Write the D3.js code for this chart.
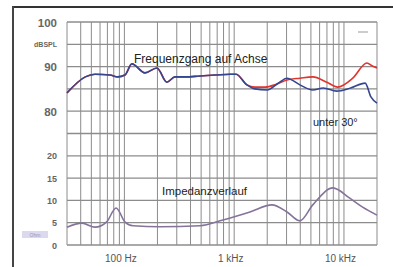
<!DOCTYPE html>
<html>
<head>
<meta charset="utf-8">
<script src="https://cdn.jsdelivr.net/npm/d3@7"></script>
<style>
body { margin:0; background:#fff; }
svg { display:block; font-family: "Liberation Sans", Arial, sans-serif; }
</style>
</head>
<body>
<div class="chart"></div>
<script>
// Frequenzgang (dB) and Impedanz (Ohm)
var freqAxis = [30, 44, 54, 74, 87, 101, 117, 154, 198, 244, 289, 356, 488, 668, 917, 1040, 1306];
var splAxis  = [84.1, 87.7, 88.3, 88.1, 87.7, 88.1, 90.6, 88.6, 89.7, 86.5, 87.7, 87.7, 87.9, 88.1, 88.3, 88.3, 85.9];

var freqOn = [1544, 1915, 2400, 3030, 3966, 5203, 6975, 8780, 12031, 16163, 18334, 20000];
var splOn  = [85.4, 85.4, 86.0, 87.0, 87.4, 87.7, 86.5, 85.4, 87.4, 90.8, 90.1, 89.7];

var freq30 = [1544, 2000, 2500, 3030, 3966, 5203, 6485, 8575, 11500, 15600, 17600, 20000];
var spl30  = [85.0, 84.75, 86.2, 87.4, 85.9, 84.75, 85.2, 84.5, 85.2, 86.3, 83.2, 81.8];

var freqImp = [30, 41, 54, 69, 84, 101, 120, 211, 488, 790, 1393, 2208, 3030, 3966, 5203, 7923, 11300, 14800, 20000];
var ohmImp  = [4.0, 4.9, 4.0, 5.2, 8.3, 5.2, 4.3, 4.1, 4.3, 5.6, 7.4, 9.0, 7.4, 5.4, 9.0, 12.8, 10.5, 8.5, 6.7];

var yTicks = [0, 5, 10, 15, 20, 30, 40, 45, 50];
var yTickLabels = ['0', '5', '10', '15', '20', '80', '90', 'dBSPL', '100'];
var xGrid = [30,40,50,60,70,80,90,100,200,300,400,500,600,700,800,900,1000,2000,3000,4000,5000,6000,7000,8000,9000,10000,20000];
var xTicks = [100, 1000, 10000];
var xTickLabels = ['100 Hz', '1 kHz', '10 kHz'];

var width = 393, height = 267;
var plot = {left:67, right:377, top:22, bottom:245};

var svg = d3.select('.chart').append('svg')
	.attr('width', width)
	.attr('height', height);

var x = d3.scaleLog().domain([30, 20000]).range([plot.left, plot.right]),
	y = d3.scaleLinear().domain([0, 50]).range([plot.bottom, plot.top]);

// dB are drawn on the same grid: 80 dB sits on 30, 100 dB on 50
function dbToY(v) { return y(v - 50); }

// frame of the magazine box
svg.append('line').attr('x1',13).attr('x2',width).attr('y1',7).attr('y2',7)
	.style('stroke','#333').style('stroke-width',2);
svg.append('line').attr('x1',13).attr('x2',13).attr('y1',6).attr('y2',height)
	.style('stroke','#444').style('stroke-width',2);

/// grid
svg.append('g').selectAll('line.v')
	.data(xGrid).enter().append('line')
	.attr('class','v')
	.attr('x1', function(d){ return x(d); })
	.attr('x2', function(d){ return x(d); })
	.attr('y1', plot.top).attr('y2', plot.bottom)
	.style('stroke', '#8c8c8c').style('stroke-width', 1);

svg.append('g').selectAll('line.h')
	.data(d3.range(0, 51, 5)).enter().append('line')
	.attr('class','h')
	.attr('x1', plot.left).attr('x2', plot.right)
	.attr('y1', function(d){ return y(d); })
	.attr('y2', function(d){ return y(d); })
	.style('stroke', '#8c8c8c').style('stroke-width', 1.3);

/// y labels
var yAxis = svg.append('g')
	.attr('transform', 'translate(' + (plot.left - 7) + ',0)')
	.call(d3.axisLeft(y).tickValues(yTicks).tickSize(0)
		.tickFormat(function(d, i){ return yTickLabels[i]; }));
yAxis.select('.domain').remove();
yAxis.selectAll('text')
	.style('fill', '#666')
	.style('font-family', '"Liberation Sans", Arial, sans-serif')
	.style('font-weight', 'bold')
	.style('font-size', function(d){ return d >= 30 ? (d == 45 ? '7px' : '11.5px') : '9px'; })
	.attr('dy', '0.35em');

/// x labels
var xAxis = svg.append('g')
	.attr('transform', 'translate(-4,' + plot.bottom + ')')
	.call(d3.axisBottom(x).tickValues(xTicks).tickSize(0).tickPadding(10)
		.tickFormat(function(d, i){ return xTickLabels[i]; }));
xAxis.select('.domain').remove();
xAxis.selectAll('text')
	.style('fill', '#555')
	.style('font-family', '"Liberation Sans", Arial, sans-serif')
	.style('font-size', '10px');

/// curves
var lineDb = d3.line()
	.x(function(d){ return x(d[0]); })
	.y(function(d){ return dbToY(d[1]); })
	.curve(d3.curveMonotoneX);
var lineOhm = d3.line()
	.x(function(d){ return x(d[0]); })
	.y(function(d){ return y(d[1]); })
	.curve(d3.curveMonotoneX);

var common = d3.zip(freqAxis, splAxis);
var onAxis = common.concat(d3.zip(freqOn, splOn));
var off30 = common.concat(d3.zip(freq30, spl30));
var imp = d3.zip(freqImp, ohmImp);

svg.append('path').datum(imp).attr('d', lineOhm)
	.style('fill','none').style('stroke','#85739a').style('stroke-width',1.6);
svg.append('path').datum(onAxis).attr('d', lineDb)
	.style('fill','none').style('stroke','#e0342e').style('stroke-width',1.6);
svg.append('path').datum(off30).attr('d', lineDb)
	.style('fill','none').style('stroke','#34468f').style('stroke-width',1.6);

/// captions
svg.append('text').attr('x', 134).attr('y', 63)
	.style('font-size','12px').style('fill','#222').text('Frequenzgang auf Achse');
svg.append('text').attr('x', 313).attr('y', 126)
	.style('font-size','11px').style('fill','#222').text('unter 30°');
svg.append('text').attr('x', 162).attr('y', 195)
	.style('font-size','11.5px').style('fill','#222').text('Impedanzverlauf');

// little legend marks
svg.append('line').attr('x1',358).attr('x2',368).attr('y1',32).attr('y2',32)
	.style('stroke','#999').style('stroke-width',1);
svg.append('rect').attr('x',22).attr('y',231).attr('width',26).attr('height',7)
	.style('fill','#dcd8ee');
svg.append('text').attr('x',35).attr('y',236.5).attr('text-anchor','middle')
	.style('font-size','5px').style('fill','#9a97b8').text('Ohm');
</script>
</body>
</html>
